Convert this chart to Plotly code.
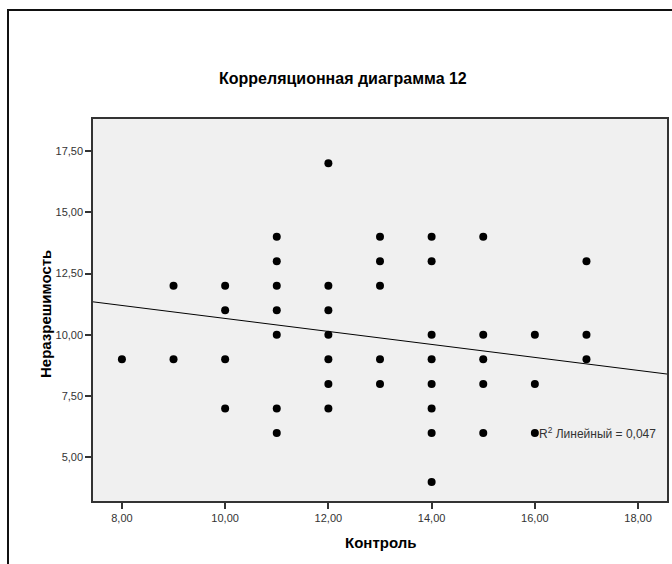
import plotly.graph_objects as go

# Data (Контроль vs Неразрешимость)
control = [8,
           9, 9,
           10, 10, 10, 10,
           11, 11, 11, 11, 11, 11, 11,
           12, 12, 12, 12, 12, 12, 12,
           13, 13, 13, 13, 13,
           14, 14, 14, 14, 14, 14, 14, 14,
           15, 15, 15, 15, 15,
           16, 16, 16,
           17, 17, 17]
unsolvability = [9,
                 12, 9,
                 12, 11, 9, 7,
                 14, 13, 12, 11, 10, 7, 6,
                 17, 12, 11, 10, 9, 8, 7,
                 14, 13, 12, 9, 8,
                 14, 13, 10, 9, 8, 7, 6, 4,
                 14, 10, 9, 8, 6,
                 10, 8, 6,
                 13, 10, 9]

# Linear fit as drawn in the original
fit_intercept = 13.32
fit_slope = -0.265
r2_text = "R<sup>2</sup> Линейный = 0,047"

x_range = [7.44, 18.56]
y_range = [3.22, 18.81]

fit_x = x_range
fit_y = [fit_intercept + fit_slope * v for v in fit_x]

fig = go.Figure()
fig.add_trace(go.Scatter(x=fit_x, y=fit_y, mode="lines",
                         line=dict(color="black", width=1), showlegend=False,
                         hoverinfo="skip"))
fig.add_trace(go.Scatter(x=control, y=unsolvability, mode="markers",
                         marker=dict(color="black", size=8), showlegend=False))

font_family = "Liberation Sans, Arial, sans-serif"
W, H = 672, 564
ml, mr, mt, mb = 93, 5, 119, 63
pw, ph = W - ml - mr, H - mt - mb

def px_x(p):
    return (p - ml) / pw

def px_y(p):
    return (H - mb - p) / ph

fig.update_layout(
    width=W, height=H,
    margin=dict(l=ml, r=mr, t=mt, b=mb, autoexpand=False),
    paper_bgcolor="white",
    plot_bgcolor="#f0f0f0",
    separators=", ",
    font=dict(family=font_family, color="#222222", size=11),
    xaxis=dict(range=x_range, tickvals=[8, 10, 12, 14, 16, 18], tickformat=".2f",
               showgrid=False, zeroline=False, showline=True, linecolor="#333333",
               linewidth=1.5, mirror=True, ticks="outside", ticklen=6, tickwidth=1.5,
               tickcolor="#333333", tickfont=dict(size=11, color="#333333")),
    yaxis=dict(range=y_range, tickvals=[5, 7.5, 10, 12.5, 15, 17.5], tickformat=".2f",
               showgrid=False, zeroline=False, showline=True, linecolor="#333333",
               linewidth=1.5, mirror=True, ticks="outside", ticklen=6, tickwidth=1.5,
               tickcolor="#333333", tickfont=dict(size=11, color="#333333")),
    annotations=[
        dict(text="<b>Корреляционная диаграмма 12</b>", xref="paper", yref="paper",
             x=px_x(343), y=px_y(78), showarrow=False, xanchor="center", yanchor="middle",
             font=dict(size=16, color="black", family=font_family)),
        dict(text="<b>Контроль</b>", xref="paper", yref="paper",
             x=px_x(380), y=px_y(542), showarrow=False, xanchor="center", yanchor="middle",
             font=dict(size=15, color="black", family=font_family)),
        dict(text="<b>Неразрешимость</b>", xref="paper", yref="paper",
             x=px_x(45), y=px_y(314), showarrow=False, xanchor="center", yanchor="middle",
             textangle=-90, font=dict(size=15, color="black", family=font_family)),
        dict(text=r2_text, xref="x", yref="y", x=16.04, y=6.0, showarrow=False,
             xanchor="left", yanchor="middle",
             font=dict(size=12, color="#333333", family=font_family)),
    ],
    shapes=[
        dict(type="rect", xref="paper", yref="paper",
             x0=px_x(8), x1=px_x(690), y0=px_y(580), y1=px_y(10),
             line=dict(color="#111111", width=2), fillcolor="rgba(0,0,0,0)", layer="below"),
    ],
)

fig.write_html("out.html", config={"displayModeBar": False},
               post_script="document.body.style.margin='0';document.body.style.overflow='hidden';")
